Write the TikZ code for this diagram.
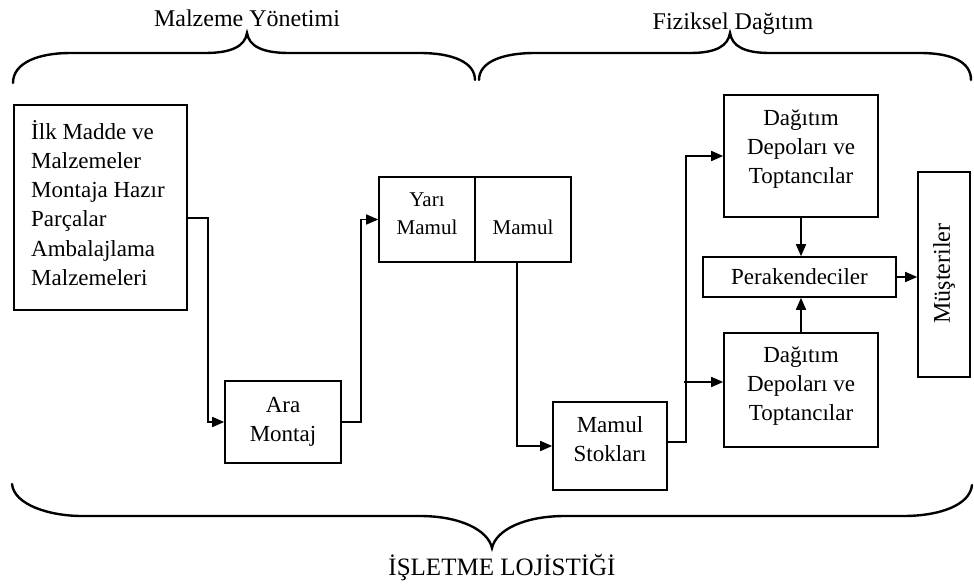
\documentclass[tikz,border=0pt]{standalone}
\usepackage{fontspec}
\setmainfont{Liberation Serif}
\usetikzlibrary{arrows.meta}
\begin{document}
\begin{tikzpicture}[x=1pt,y=-1pt,
  box/.style={draw, line width=1.6pt, inner sep=0pt},
  txt/.style={font=\fontsize{23}{29.2}\selectfont, align=center, inner sep=0pt},
  arr/.style={line width=1.6pt, -{Triangle[length=12pt,width=10pt]}},
  brace/.style={line width=2.4pt, line cap=round},
  lbl/.style={font=\fontsize{24}{28}\selectfont, inner sep=0pt}]
\useasboundingbox (0,0) rectangle (974,584);

% boxes
\node[box, minimum width=173pt, minimum height=205pt] (src) at (100.5,207.5) {};
\node[box, minimum width=116pt, minimum height=82pt] (ara) at (283,422) {};
\node[box, minimum width=96pt, minimum height=85pt] (yari) at (427,219.5) {};
\node[box, minimum width=96pt, minimum height=85pt] (mamul) at (523,219.5) {};
\node[box, minimum width=114pt, minimum height=88pt] (stok) at (610,446) {};
\node[box, minimum width=154pt, minimum height=122pt] (dag1) at (801,156) {};
\node[box, minimum width=193pt, minimum height=40pt] (perak) at (799.5,277) {};
\node[box, minimum width=154pt, minimum height=114pt] (dag2) at (801,390) {};
\node[box, minimum width=52pt, minimum height=205pt] (must) at (944,274.5) {};

% texts
\node[txt, align=left, anchor=west] (srct) at (31,203) {İlk Madde ve\\Malzemeler\\Montaja Hazır\\Parçalar\\Ambalajlama\\Malzemeleri};
\node[txt] (arat) at (283,421.5) {Ara\\Montaj};
\node[txt, font=\fontsize{21}{28}\selectfont] (yarit) at (427,213.5) {Yarı\\Mamul};
\node[txt, font=\fontsize{21}{28}\selectfont] (mamult) at (523,227.5) {Mamul};
\node[txt] (stokt) at (610,439.5) {Mamul\\Stokları};
\node[txt] (dag1t) at (801,149) {Dağıtım\\Depoları ve\\Toptancılar};
\node[txt] (dag2t) at (801,386) {Dağıtım\\Depoları ve\\Toptancılar};
\node[txt] (perakt) at (799.5,277) {Perakendeciler};
\node[txt, rotate=90, font=\fontsize{24}{29}\selectfont] (mustt) at (944,273.5) {Müşteriler};

% labels
\node[lbl, anchor=base] (mylbl) at (247,26) {Malzeme Yönetimi};
\node[lbl, anchor=base] (fdlbl) at (733,29) {Fiziksel Dağıtım};
\node[lbl, font=\fontsize{25}{30}\selectfont, anchor=base] (illbl) at (502,575) {İŞLETME LOJİSTİĞİ};

% connectors
\draw[arr] ([yshift=-10.5pt]src.east) -- ++(20,0) |- (ara.west);
\draw[arr] (ara.east) -- ++(19,0) |- (yari.west);
\draw[arr] ([xshift=-6pt]mamul.south) |- (stok.west);
\draw[arr] ([yshift=4pt]stok.east) -- ++(18,0) |- (dag1.west);
\coordinate (br) at ([xshift=-39pt,yshift=8pt]dag2.west);
\draw[arr] (br) -- ([yshift=8pt]dag2.west);
\draw[arr] (dag1.south) -- (dag1.south |- perak.north);
\draw[arr] (dag2.north) -- (dag2.north |- perak.south);
\draw[arr] (perak.east) -- (perak.east -| must.west);

% braces
\draw[brace] (13,83) .. controls (13,62) and (40,53) .. (70,53) -- (205,53)
  .. controls (232,53) and (245,46) .. (247,33)
  .. controls (249,46) and (262,53) .. (289,53) -- (420,53)
  .. controls (452,53) and (475,62) .. (475,80);
\draw[brace] (479,80) .. controls (479,62) and (502,53) .. (535,53) -- (690,53)
  .. controls (716,53) and (728,46) .. (730,33)
  .. controls (732,46) and (744,53) .. (770,53) -- (920,53)
  .. controls (952,53) and (971,62) .. (971,80);
\draw[brace] (12,484) .. controls (14,505) and (50,516) .. (82,516) -- (420,516)
  .. controls (460,516) and (488,530) .. (492,548)
  .. controls (496,530) and (524,516) .. (565,516) -- (903,516)
  .. controls (940,516) and (970,505) .. (972,485);
\end{tikzpicture}
\end{document}
